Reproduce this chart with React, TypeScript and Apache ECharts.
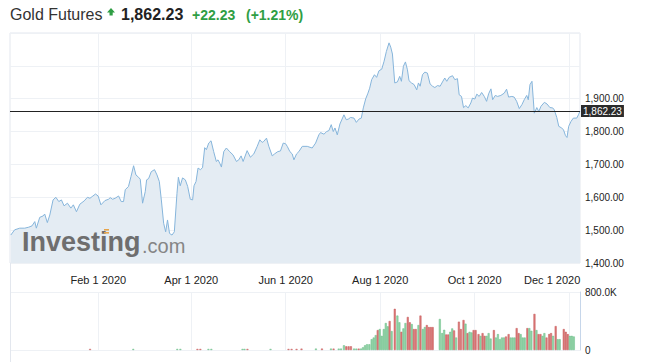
import React, { useEffect, useRef } from 'react';
import * as echarts from 'echarts';

const FONT = 'Arial, "Liberation Sans", Helvetica, sans-serif';

// x positions are day offsets from 2019-12-06
const startDate = [2019, 11, 6];
const endDay = 368;
const tickDates = ['2020-02-01', '2020-04-01', '2020-06-01', '2020-08-01', '2020-10-01', '2020-12-01'];
const months = ['Jan', 'Feb', 'Mar', 'Apr', 'May', 'Jun', 'Jul', 'Aug', 'Sep', 'Oct', 'Nov', 'Dec'];

const titleText = 'Gold Futures';
const changeText = '+22.23';
const changePctText = '(+1.21%)';
const priceLabelMax = 1900;

const priceDays = [
  0.5, 3.0, 6.3, 9.5, 12.1, 14.2, 16.0, 17.0, 19.2, 21.3, 22.4, 24.1, 25.7, 27.8, 29.6, 31.5, 33.2, 34.9, 37.1, 39.3,
  40.9, 42.9, 45.1, 47.9, 50.0, 51.6, 53.0, 55.2, 56.9, 58.7, 61.3, 63.6, 64.7, 66.2, 67.9, 70.1, 71.8, 73.3, 74.4, 76.5,
  78.1, 79.8, 81.3, 83.0, 84.1, 85.6, 87.3, 88.2, 89.5, 91.2, 93.3, 94.9, 96.4, 97.7, 99.2, 100.5, 101.7, 103.0, 104.6, 106.1,
  107.8, 108.7, 109.9, 111.4, 113.2, 114.7, 116.4, 117.9, 118.8, 120.1, 121.4, 122.9, 124.3, 125.7, 126.8, 128.3, 129.8, 131.5, 133.2, 134.3,
  135.4, 136.5, 138.0, 139.7, 141.8, 144.0, 146.2, 147.7, 149.2, 150.5, 153.1, 155.2, 157.4, 159.6, 161.3, 162.8, 163.8, 165.6, 167.1, 169.3,
  170.8, 172.9, 174.6, 176.4, 177.9, 179.0, 180.7, 182.2, 183.3, 185.0, 186.5, 188.7, 191.9, 195.1, 197.3, 199.4, 200.5, 202.7, 204.4, 205.9,
  207.4, 208.7, 209.8, 211.3, 213.0, 215.6, 217.1, 218.4, 219.9, 222.1, 223.6, 225.3, 226.8, 228.1, 229.6, 231.1, 232.2, 233.5, 235.3, 236.7,
  238.2, 240.0, 241.5, 243.0, 244.7, 245.8, 246.9, 248.4, 250.1, 251.6, 252.7, 254.0, 255.3, 256.6, 257.6, 259.2, 260.9, 262.6, 263.7, 264.8,
  266.3, 267.8, 269.5, 271.2, 272.8, 274.3, 276.0, 277.7, 279.2, 280.7, 282.0, 283.5, 285.7, 287.2, 288.9, 290.0, 291.5, 292.8, 294.3, 295.8,
  297.5, 298.6, 300.1, 301.4, 302.9, 304.5, 306.2, 307.7, 309.0, 310.5, 311.6, 313.3, 314.8, 316.9, 319.1, 320.6, 321.9, 324.0, 325.5, 327.1,
  328.8, 330.5, 332.0, 333.6, 334.6, 335.7, 337.0, 338.5, 340.1, 341.4, 342.8, 345.0, 346.7, 348.6, 350.4, 351.4, 353.0, 354.3, 355.8, 357.3,
  358.6, 359.6, 360.7, 362.2, 363.7, 365.9, 367.2, 368
];
const prices = [
  1485, 1501, 1506, 1506, 1509, 1513, 1526, 1506, 1539, 1543, 1549, 1523, 1546, 1592, 1600, 1587, 1592, 1574, 1582, 1567,
  1577, 1556, 1579, 1589, 1600, 1597, 1602, 1610, 1604, 1577, 1590, 1594, 1599, 1594, 1597, 1604, 1587, 1587, 1623, 1633,
  1663, 1696, 1668, 1661, 1655, 1582, 1617, 1653, 1657, 1678, 1684, 1668, 1648, 1592, 1521, 1495, 1531, 1490, 1485, 1495,
  1612, 1661, 1635, 1659, 1653, 1633, 1594, 1592, 1635, 1648, 1689, 1684, 1690, 1751, 1745, 1765, 1772, 1739, 1709, 1714,
  1704, 1692, 1739, 1750, 1739, 1729, 1709, 1714, 1726, 1709, 1742, 1722, 1732, 1755, 1775, 1767, 1770, 1780, 1755, 1726,
  1732, 1739, 1741, 1765, 1763, 1755, 1739, 1732, 1714, 1732, 1739, 1755, 1755, 1750, 1765, 1790, 1797, 1792, 1800, 1803,
  1821, 1800, 1811, 1790, 1823, 1851, 1836, 1838, 1843, 1841, 1828, 1838, 1841, 1872, 1899, 1917, 1932, 1958, 1973, 1965,
  1985, 1990, 2014, 2044, 2070, 2057, 2036, 1948, 1951, 1968, 1953, 1999, 2012, 1988, 1955, 1948, 1943, 1927, 1948, 1938,
  1973, 1981, 1978, 1945, 1938, 1934, 1940, 1938, 1951, 1963, 1953, 1965, 1970, 1958, 1961, 1912, 1907, 1873, 1879, 1872,
  1887, 1902, 1899, 1914, 1907, 1919, 1907, 1892, 1915, 1930, 1897, 1910, 1907, 1910, 1917, 1929, 1905, 1907, 1905, 1892,
  1870, 1882, 1897, 1910, 1897, 1943, 1953, 1856, 1873, 1861, 1877, 1889, 1884, 1873, 1872, 1866, 1843, 1816, 1812, 1806,
  1788, 1782, 1816, 1831, 1841, 1841, 1853, 1862.23
];

const volDays = [
  51.7, 79.6, 108.0, 110.0, 121.0, 122.9, 128.1, 130.0, 150.1, 151.4, 153.3, 168.2, 179.8, 181.8, 185.0,
  188.2, 197.5, 201.4, 207.2, 208.9, 212.2, 213.7, 215.6, 217.1, 218.6, 220.1, 222.1, 223.6, 225.1, 226.6,
  227.9, 229.2, 230.5, 232.0, 233.5, 234.8, 236.1, 237.4, 238.7, 240.0, 241.3, 242.6, 243.9, 245.1, 246.4,
  248.4, 250.1, 251.4, 252.7, 254.0, 255.3, 256.8, 258.1, 259.4, 260.7, 262.0, 263.7, 265.0, 266.5, 267.8,
  269.1, 270.4, 271.7, 272.9, 277.5, 279.0, 280.3, 281.6, 282.9, 284.2, 285.5, 286.7, 288.0, 289.8, 291.1,
  292.8, 294.1, 295.4, 296.7, 298.0, 299.3, 300.6, 302.5, 303.8, 305.1, 306.4, 307.7, 309.0, 310.3, 312.4,
  313.7, 315.0, 316.3, 317.6, 318.9, 320.2, 321.9, 323.2, 324.5, 325.8, 327.1, 328.4, 329.7, 331.0, 332.3,
  334.0, 335.3, 336.6, 338.6, 339.9, 341.2, 342.5, 343.8, 345.0, 346.4, 348.1, 349.3, 350.6, 352.3, 353.6,
  354.9, 357.5, 358.8, 360.1, 361.4, 362.7, 364.0
];
const volumes = [
  15000, 15000, 15000, 15000, 15000, 15000, 15000, 15000, 15000, 15000, 15000, 15000, 15000, 15000, 15000,
  19000, 19000, 19000, 19000, 19000, 19000, 19000, 65000, 51000, 51000, 51000, 19000, 19000, 19000, 19000,
  37000, 65000, 79000, 79000, 149000, 172000, 205000, 275000, 289000, 195000, 289000, 372000, 326000, 400000, 261000,
  568000, 475000, 382000, 251000, 298000, 372000, 456000, 382000, 358000, 289000, 289000, 344000, 475000, 289000, 316000,
  344000, 316000, 316000, 316000, 428000, 233000, 279000, 214000, 214000, 251000, 298000, 270000, 172000, 391000, 289000,
  414000, 363000, 233000, 251000, 242000, 275000, 275000, 219000, 195000, 233000, 195000, 195000, 233000, 158000, 275000,
  172000, 219000, 149000, 172000, 172000, 186000, 219000, 172000, 172000, 172000, 302000, 233000, 219000, 172000, 172000,
  302000, 302000, 265000, 498000, 275000, 219000, 219000, 195000, 233000, 172000, 219000, 233000, 195000, 330000, 149000,
  149000, 289000, 251000, 219000, 195000, 195000, 186000
];
const volDir = [
  'd', 'u', 'u', 'u', 'd', 'd', 'u', 'u', 'u', 'u', 'd', 'u', 'd', 'd', 'd',
  'd', 'u', 'd', 'u', 'd', 'u', 'u', 'u', 'd', 'd', 'd', 'u', 'u', 'd', 'u',
  'u', 'u', 'u', 'u', 'u', 'u', 'u', 'd', 'u', 'u', 'u', 'u', 'u', 'd', 'u',
  'd', 'u', 'u', 'd', 'u', 'u', 'd', 'd', 'u', 'd', 'd', 'u', 'd', 'u', 'u',
  'd', 'd', 'd', 'd', 'u', 'u', 'u', 'd', 'd', 'u', 'u', 'd', 'u', 'd', 'd',
  'd', 'u', 'd', 'u', 'u', 'd', 'd', 'd', 'u', 'd', 'd', 'u', 'u', 'u', 'd',
  'u', 'u', 'u', 'u', 'u', 'd', 'd', 'u', 'u', 'u', 'd', 'd', 'u', 'u', 'u',
  'd', 'u', 'u', 'd', 'u', 'd', 'd', 'u', 'u', 'd', 'd', 'd', 'u', 'd', 'u',
  'u', 'd', 'd', 'd', 'u', 'u', 'u'
];

const DAY = 86400000;
const startTs = new Date(startDate[0], startDate[1], startDate[2]).getTime();
const dayTs = (d: number) => startTs + d * DAY;
const tickTs = tickDates.map((s) => {
  const [y, m, d] = s.split('-').map(Number);
  return new Date(y, m - 1, d).getTime();
});
const fmt2 = (v: number) => v.toLocaleString('en-US', { minimumFractionDigits: 2, maximumFractionDigits: 2 });

export default function App() {
  const ref = useRef<HTMLDivElement>(null);
  useEffect(() => {
    if (!ref.current) return;
    const chart = echarts.init(ref.current, undefined, { renderer: 'svg' });
    const lastPrice = prices[prices.length - 1];
    const gridLine = { show: true, lineStyle: { color: '#eef1f5', width: 1 } };
    const lastTick = tickTs[tickTs.length - 1];
    const xLabelFmt = (v: number) => {
      const d = new Date(v);
      const s = `${months[d.getMonth()]} ${d.getDate()} ${d.getFullYear()}`;
      // the last label is kept inside the plot area
      return v === lastTick ? `{edge|${s}}` : s;
    };
    const option: any = {
      animation: false,
      textStyle: { fontFamily: FONT },
      grid: [
        { left: 10, right: 67, top: 33, height: 230, show: true, borderColor: '#e3e7ee', borderWidth: 1 },
        { left: 10, right: 67, top: 292, height: 58 },
      ],
      xAxis: [
        {
          type: 'value', gridIndex: 0, min: startTs, max: dayTs(endDay), scale: true,
          axisLine: { show: false },
          axisTick: { show: false, customValues: tickTs },
          axisLabel: {
            customValues: tickTs, formatter: xLabelFmt, fontSize: 11, color: '#222', margin: 11, fontFamily: FONT,
            rich: { edge: { fontSize: 11, color: '#222', fontFamily: FONT, padding: [0, 34, 0, 0] } },
          },
          splitLine: gridLine,
        },
        {
          type: 'value', gridIndex: 1, min: startTs, max: dayTs(endDay), scale: true,
          axisLine: { show: false },
          axisTick: { show: false, customValues: tickTs },
          axisLabel: { show: false },
          splitLine: gridLine,
        },
      ],
      yAxis: [
        {
          type: 'value', gridIndex: 0, position: 'right', min: 1400, max: 2100, interval: 100,
          axisLine: { show: false }, axisTick: { show: false },
          axisLabel: {
            fontSize: 10, color: '#222', margin: 5, fontFamily: FONT,
            formatter: (v: number) => (v > priceLabelMax ? '' : fmt2(v)),
          },
          splitLine: gridLine,
        },
        {
          type: 'value', gridIndex: 1, position: 'right', min: 0, max: 800000, interval: 800000,
          axisLine: { show: true, lineStyle: { color: '#c6d6ea' } }, axisTick: { show: false },
          axisLabel: {
            fontSize: 10, color: '#222', margin: 5, fontFamily: FONT,
            formatter: (v: number) => (v === 0 ? '0' : (v / 1000).toFixed(1) + 'K'),
          },
          splitLine: gridLine,
        },
      ],
      series: [
        {
          type: 'line', xAxisIndex: 0, yAxisIndex: 0, symbol: 'none',
          data: priceDays.map((d, i) => [dayTs(d), prices[i]]),
          lineStyle: { color: '#86b5db', width: 1 },
          areaStyle: { color: '#e4ecf3', origin: 'start', opacity: 1 },
          markLine: {
            silent: true, symbol: ['none', 'none'],
            lineStyle: { color: '#222', width: 1, type: 'solid' },
            label: {
              show: true, position: 'end', distance: 1, formatter: fmt2(lastPrice),
              color: '#fff', backgroundColor: '#2b2b2b', fontSize: 10, padding: [1, 2], lineHeight: 10, fontFamily: FONT,
            },
            data: [{ yAxis: lastPrice }],
          },
          z: 2,
        },
        {
          type: 'bar', xAxisIndex: 1, yAxisIndex: 1, barWidth: 2,
          data: volDays.map((d, i) => ({
            value: [dayTs(d), volumes[i]],
            itemStyle: volDir[i] === 'u'
              ? { color: '#93d4a8', borderColor: '#69bd86', borderWidth: 0.5 }
              : { color: '#dc7878', borderColor: '#c75d5d', borderWidth: 0.5 },
          })),
        },
      ],
      graphic: [
        { type: 'text', x: 10, y: 14, z: 100, style: { text: titleText, font: `16px ${FONT}`, fill: '#333', verticalAlign: 'middle' } },
        { type: 'polygon', z: 100, shape: { points: [[107, 12.5], [111, 8], [115, 12.5], [112.7, 12.5], [112.7, 15.5], [109.5, 15.5], [109.5, 12.5]] }, style: { fill: '#2f9e44' } },
        { type: 'text', x: 121, y: 14, z: 100, style: { text: fmt2(lastPrice), font: `bold 16px ${FONT}`, fill: '#222', verticalAlign: 'middle' } },
        { type: 'text', x: 192, y: 15, z: 100, style: { text: changeText, font: `bold 14px ${FONT}`, fill: '#2f9e44', verticalAlign: 'middle' } },
        { type: 'text', x: 246, y: 15, z: 100, style: { text: changePctText, font: `bold 14px ${FONT}`, fill: '#2f9e44', verticalAlign: 'middle' } },
        { type: 'line', z: 100, shape: { x1: 10.5, y1: 263, x2: 10.5, y2: 362 }, style: { stroke: '#e3e7ee', lineWidth: 1 } },
        { type: 'text', x: 22, y: 242, z: 100, style: { text: 'Investing', font: `bold 27px ${FONT}`, fill: '#6e6e6e', verticalAlign: 'middle' } },
        { type: 'text', x: 142, y: 246, z: 100, style: { text: '.com', font: `20px ${FONT}`, fill: '#858585', verticalAlign: 'middle' } },
        { type: 'rect', z: 101, shape: { x: 104, y: 229, width: 5, height: 1.6 }, style: { fill: '#e7a44a' } },
        { type: 'rect', z: 101, shape: { x: 104, y: 232, width: 5, height: 1.6 }, style: { fill: '#e7a44a' } },
      ],
    };
    chart.setOption(option);
    return () => chart.dispose();
  }, []);
  return <div ref={ref} style={{ position: 'absolute', left: 0, top: 0, width: 647, height: 362 }} />;
}
